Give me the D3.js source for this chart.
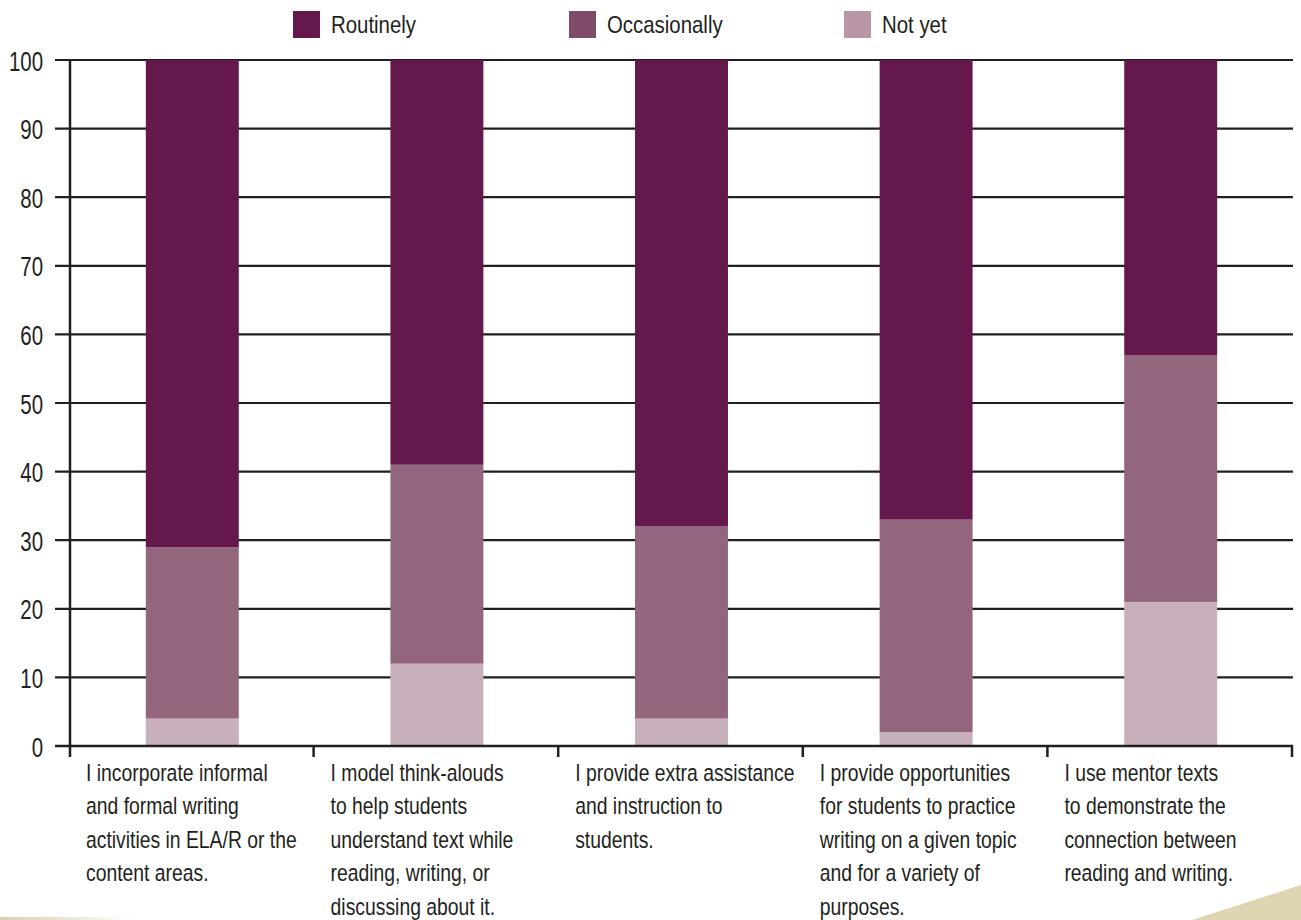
<!DOCTYPE html>
<html>
<head>
<meta charset="utf-8">
<script src="https://d3js.org/d3.v7.min.js"></script>
<style>
  html, body { margin: 0; padding: 0; background: #fff; }
  svg { display: block; }
  text { font-family: "Liberation Sans", Arial, sans-serif; fill: #231F20; }
</style>
</head>
<body>
<svg id="chart" width="1301" height="920"></svg>
<script>
const categories = [
  ["I incorporate informal", "and formal writing", "activities in ELA/R or the", "content areas."],
  ["I model think-alouds", "to help students", "understand text while", "reading, writing, or", "discussing about it."],
  ["I provide extra assistance", "and instruction to", "students."],
  ["I provide opportunities", "for students to practice", "writing on a given topic", "and for a variety of", "purposes."],
  ["I use mentor texts", "to demonstrate the", "connection between", "reading and writing."]
];
const seriesNames = ["Not yet", "Occasionally", "Routinely"];
const notYet       = [4, 12, 4, 2, 21];
const occasionally = [25, 29, 28, 31, 36];
const routinely    = [71, 59, 68, 67, 43];
const yTicks = [0, 10, 20, 30, 40, 50, 60, 70, 80, 90, 100];
const legendNames = ["Routinely", "Occasionally", "Not yet"];

const barColors = { "Routinely": "#65184B", "Occasionally": "#94667E", "Not yet": "#C7B0BB" };
const legendColors = { "Routinely": "#65184B", "Occasionally": "#7E4B68", "Not yet": "#B895A7" };

(function () {
const svg = d3.select("#chart");
const mLeft = 70, mRight = 1293, mTop = 60, mBottom = 746;

const rows = categories.map((c, i) => ({
  idx: i,
  "Not yet": notYet[i],
  "Occasionally": occasionally[i],
  "Routinely": routinely[i]
}));

const x = d3.scaleBand().domain(d3.range(categories.length)).range([mLeft, mRight]).padding(0);
const y = d3.scaleLinear().domain([0, 100]).range([mBottom, mTop]);
const barW = x.bandwidth() * 0.38;

// decorations
const defs = svg.append("defs");
const grad = defs.append("linearGradient").attr("id", "fadeL").attr("x1", "0").attr("x2", "1");
grad.append("stop").attr("offset", "0").attr("stop-color", "#D9D0AC");
grad.append("stop").attr("offset", "1").attr("stop-color", "#ffffff");
svg.append("rect").attr("x", 0).attr("y", 917).attr("width", 135).attr("height", 3).attr("fill", "url(#fadeL)");
svg.append("path").attr("d", "M1192,920 L1301,885 L1301,920 Z").attr("fill", "#DDD5B3");

// gridlines
svg.append("g").selectAll("line").data(yTicks).join("line")
  .attr("x1", mLeft - 15).attr("x2", mRight)
  .attr("y1", d => y(d)).attr("y2", d => y(d))
  .attr("stroke", "#231F20").attr("stroke-width", 2.2);

// stacked bars
const stack = d3.stack().keys(seriesNames);
const layers = stack(rows);
svg.append("g").selectAll("g").data(layers).join("g")
  .attr("fill", d => barColors[d.key])
  .selectAll("rect").data(d => d).join("rect")
  .attr("x", d => x(d.data.idx) + (x.bandwidth() - barW) / 2)
  .attr("width", barW)
  .attr("y", d => y(d[1]))
  .attr("height", d => y(d[0]) - y(d[1]));

// baseline over bars
svg.append("line").attr("x1", mLeft - 15).attr("x2", mRight)
  .attr("y1", y(0)).attr("y2", y(0)).attr("stroke", "#231F20").attr("stroke-width", 2.5);

// y axis line
svg.append("line").attr("x1", mLeft).attr("x2", mLeft)
  .attr("y1", mTop - 1).attr("y2", mBottom + 11).attr("stroke", "#231F20").attr("stroke-width", 2.5);

// bottom category boundary ticks
const bounds = d3.range(1, categories.length + 1).map(i => i < categories.length ? x(i) : mRight);
svg.append("g").selectAll("line").data(bounds).join("line")
  .attr("x1", d => d - 1).attr("x2", d => d - 1)
  .attr("y1", mBottom).attr("y2", mBottom + 11)
  .attr("stroke", "#231F20").attr("stroke-width", 2.5);

// y tick labels (condensed)
svg.append("g").selectAll("text").data(yTicks).join("text")
  .attr("transform", d => `translate(43,${y(d) + 10.5}) scale(0.73,1)`)
  .attr("text-anchor", "end")
  .attr("font-size", 28)
  .text(d => d);

// category labels (condensed)
const lineH = 33.4;
const catG = svg.append("g").selectAll("g").data(categories).join("g")
  .attr("transform", (d, i) => `translate(${x(i) + 16},781)`);
catG.selectAll("text").data(d => d).join("text")
  .attr("transform", (d, i) => `translate(0,${i * lineH}) scale(0.79,1)`)
  .attr("font-size", 24.5)
  .text(d => d);

// legend
const legendX = [293, 569, 844];
const lg = svg.append("g").selectAll("g").data(legendNames).join("g")
  .attr("transform", (d, i) => `translate(${legendX[i]},11)`);
lg.append("rect").attr("width", 27).attr("height", 27).attr("fill", d => legendColors[d]);
lg.append("text").attr("transform", "translate(38,22) scale(0.85,1)").attr("font-size", 24).text(d => d);
})();
</script>
</body>
</html>
